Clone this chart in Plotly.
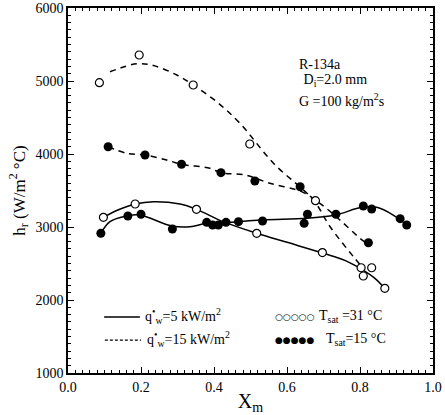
import plotly.graph_objects as go

# ---- data: measured points ----
x_open_q5 = [0.097, 0.184, 0.352, 0.517, 0.697, 0.803, 0.809, 0.868]
y_open_q5 = [3133, 3315, 3242, 2914, 2650, 2442, 2329, 2160]

x_open_q15 = [0.086, 0.195, 0.343, 0.498, 0.678, 0.832]
y_open_q15 = [4977, 5356, 4945, 4137, 3360, 2442]

x_fill_q5 = [0.090, 0.164, 0.200, 0.286, 0.380, 0.396, 0.412, 0.433, 0.467,
             0.533, 0.647, 0.656, 0.734, 0.809, 0.832, 0.910, 0.928]
y_fill_q5 = [2914, 3151, 3174, 2973, 3064, 3027, 3027, 3064, 3073,
             3082, 3050, 3174, 3174, 3288, 3247, 3114, 3027]

x_fill_q15 = [0.110, 0.211, 0.311, 0.419, 0.512, 0.636, 0.823]
y_fill_q15 = [4100, 3986, 3859, 3744, 3630, 3552, 2785]

# ---- data: fitted curves ----
cx_open_q5 = [0.097, 0.140, 0.184, 0.234, 0.307, 0.352, 0.425, 0.517, 0.600, 0.700, 0.760, 0.805, 0.840, 0.868]
cy_open_q5 = [3133, 3240, 3315, 3347, 3315, 3242, 3073, 2914, 2790, 2640, 2540, 2420, 2300, 2160]

cx_fill_q5 = [0.090, 0.115, 0.161, 0.197, 0.284, 0.334, 0.380, 0.435, 0.471, 0.535, 0.654, 0.732, 0.805, 0.846, 0.891, 0.928]
cy_fill_q5 = [2914, 3073, 3151, 3164, 3014, 3004, 3050, 3064, 3073, 3100, 3119, 3164, 3270, 3270, 3164, 3027]

cx_open_q15 = [0.115, 0.188, 0.234, 0.298, 0.343, 0.407, 0.471, 0.563, 0.672, 0.718, 0.782, 0.805]
cy_open_q15 = [5127, 5235, 5212, 5082, 4945, 4717, 4421, 3873, 3370, 3004, 2593, 2456]

cx_fill_q15 = [0.110, 0.161, 0.211, 0.270, 0.311, 0.389, 0.419, 0.485, 0.553, 0.640, 0.690, 0.745, 0.800, 0.815]
cy_fill_q15 = [4100, 4009, 3986, 3918, 3859, 3804, 3744, 3712, 3599, 3484, 3325, 3096, 2845, 2790]

x_ticks = [0.0, 0.2, 0.4, 0.6, 0.8, 1.0]
y_ticks = [1000, 2000, 3000, 4000, 5000, 6000]

FONT = "Liberation Serif"
fig = go.Figure()

dash = "6px,5px"
for cx, cy, d in [(cx_open_q5, cy_open_q5, "solid"), (cx_fill_q5, cy_fill_q5, "solid"),
                  (cx_open_q15, cy_open_q15, dash), (cx_fill_q15, cy_fill_q15, dash)]:
    fig.add_trace(go.Scatter(x=cx, y=cy, mode="lines",
                             line=dict(color="black", width=1.5, dash=d, shape="spline", smoothing=1.0),
                             showlegend=False, hoverinfo="skip"))

for xs, ys in [(x_open_q5, y_open_q5), (x_open_q15, y_open_q15)]:
    fig.add_trace(go.Scatter(x=xs, y=ys, mode="markers",
                             marker=dict(symbol="circle", size=8, color="white",
                                         line=dict(color="black", width=1.2)),
                             showlegend=False))
for xs, ys in [(x_fill_q5, y_fill_q5), (x_fill_q15, y_fill_q15)]:
    fig.add_trace(go.Scatter(x=xs, y=ys, mode="markers",
                             marker=dict(symbol="circle", size=9, color="black",
                                         line=dict(color="black", width=0)),
                             showlegend=False))

axis_common = dict(showline=True, linecolor="black", linewidth=1.5, mirror="allticks",
                   ticks="inside", ticklen=6, tickwidth=1, tickcolor="black",
                   showgrid=False, zeroline=False, automargin=False,
                   tickfont=dict(family=FONT, size=14, color="black"))

fig.update_xaxes(range=[0, 1], tickvals=x_ticks, ticktext=[f"{v:.1f}" for v in x_ticks],
                 minor=dict(dtick=0.02, ticks="inside", ticklen=3, tickcolor="black"),
                 title=dict(text="X<sub>m</sub>", font=dict(family=FONT, size=20, color="black"), standoff=0),
                 **axis_common)
fig.update_yaxes(range=[1000, 6000], tickvals=y_ticks, ticktext=[str(v) for v in y_ticks],
                 minor=dict(dtick=100, ticks="inside", ticklen=3, tickcolor="black"),
                 title=dict(text="h<sub>r</sub> (W/m<sup>2</sup> °C)", font=dict(family=FONT, size=17, color="black"), standoff=6),
                 **axis_common)

def ann(x, y, text, size=14, fam=FONT, xanchor="left"):
    fig.add_annotation(x=x, y=y, xref="x", yref="y", text=text, showarrow=False,
                       xanchor=xanchor, yanchor="middle",
                       font=dict(family=fam, size=size, color="black"))

ann(0.627, 5230, "R-134a")
ann(0.630, 5010, " D<sub>i</sub>=2.0 mm")
ann(0.627, 4745, "G =100 kg/m<sup>2</sup>s")

# legend block
fig.add_shape(type="line", xref="x", yref="y", x0=0.099, x1=0.197, y0=1767, y1=1767,
              line=dict(color="black", width=1.3))
fig.add_shape(type="line", xref="x", yref="y", x0=0.101, x1=0.200, y0=1450, y1=1450,
              line=dict(color="black", width=1.2, dash="3px,2px"))
ann(0.205, 1780, "q<sup>•</sup><sub>w</sub>=5 kW/m<sup>2</sup>")
ann(0.210, 1465, "q<sup>•</sup><sub>w</sub>=15 kW/m<sup>2</sup>")
ann(0.679, 1767, "○○○○○", size=9, fam="DejaVu Sans", xanchor="right")
ann(0.679, 1450, "●●●●●", size=9, fam="DejaVu Sans", xanchor="right")
ann(0.683, 1780, "T<sub>sat</sub> =31 °C")
ann(0.702, 1465, "T<sub>sat</sub>=15 °C")

fig.update_layout(width=445, height=415, autosize=False,
                  margin=dict(l=68, r=12, t=8, b=42),
                  paper_bgcolor="white", plot_bgcolor="white",
                  font=dict(family=FONT, color="black"), showlegend=False)

fig.write_html("out.html", config={"displayModeBar": False},
               post_script="document.body.style.margin='0';document.body.style.overflow='hidden';")
